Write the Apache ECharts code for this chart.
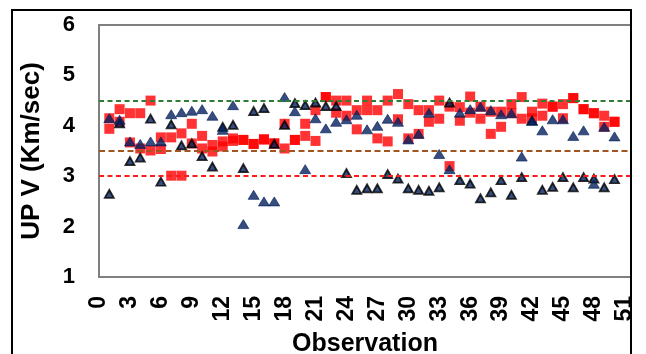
<!DOCTYPE html>
<html><head><meta charset="utf-8">
<script src="https://cdn.jsdelivr.net/npm/echarts@6/dist/echarts.min.js"></script>
<style>html,body{margin:0;padding:0;background:#fff}#c{width:646px;height:354px}</style>
</head><body><div id="c"></div>
<script>
const observations = [1,2,3,4,5,6,7,8,9,10,11,12,13,14,15,16,17,18,19,20,21,22,23,24,25,26,27,28,29,30,31,32,33,34,35,36,37,38,39,40,41,42,43,44,45,46,47,48,49,50];
const redA = [4.15,4.33,4.25,4.25,4.50,3.77,3.77,3.85,4.04,3.80,3.62,3.69,3.75,3.72,3.64,3.73,3.65,4.04,3.72,4.04,4.31,4.57,4.50,4.50,4.31,4.50,4.31,4.50,4.63,4.43,4.31,4.31,4.50,4.38,4.37,4.58,4.38,4.28,4.28,4.43,4.57,4.28,4.44,4.38,4.43,4.55,4.33,4.25,4.20,4.08];
const redB = [3.94,4.08,3.67,3.55,3.51,3.54,3.01,3.01,3.65,3.55,3.49,3.59,3.70,3.72,3.64,3.73,3.65,3.55,3.72,3.80,3.70,4.57,4.26,4.20,3.93,4.31,3.75,3.69,4.13,3.75,3.84,4.08,4.14,3.20,4.10,4.26,4.14,3.84,3.98,4.25,4.14,4.15,4.20,4.38,4.15,4.55,4.33,4.25,3.98,4.08];
const navyTri = [4.15,4.12,3.69,3.64,3.69,3.69,4.23,4.27,4.30,4.33,4.20,3.92,4.41,2.05,2.63,2.50,2.50,4.57,4.29,3.14,4.15,3.95,4.08,4.13,4.22,3.93,4.00,4.14,4.08,3.73,3.84,4.26,3.44,3.14,4.26,4.33,4.38,4.31,4.23,4.25,3.39,4.10,3.91,4.13,4.13,3.80,3.91,2.85,3.98,3.79];
const blackTri = [2.65,4.05,3.30,3.37,4.14,2.89,4.03,3.61,3.65,3.40,3.19,3.98,4.02,3.16,4.29,4.35,3.64,4.02,4.45,4.41,4.46,4.39,4.39,3.06,2.73,2.76,2.76,3.04,2.95,2.76,2.73,2.71,2.78,4.46,2.92,2.85,2.56,2.68,2.92,2.63,2.98,4.10,2.73,2.79,2.98,2.78,2.98,2.95,2.78,2.94];
const refLines = [4.5, 3.5, 3.0];
const refColors = ['#2E7D32', '#A0561E', '#FF1A1A'];
const yTicks = [1,2,3,4,5,6];
const xTickStep = 3;

const pairs = arr => arr.map((v, i) => [observations[i], v]);
const chart = echarts.init(document.getElementById('c'), null, {renderer: 'canvas'});
const font = 'Liberation Sans, Arial, sans-serif';
const navy = '#04205C';
chart.setOption({
  animation: false,
  backgroundColor: '#fff',
  graphic: [{type: 'rect', shape: {x: 12, y: 10, width: 619, height: 360}, style: {fill: 'none', stroke: '#000', lineWidth: 2}, z: 100}],
  grid: {left: 99, top: 25, right: 15, bottom: 77, show: true, borderColor: '#808080', borderWidth: 2, backgroundColor: 'transparent', outerBoundsMode: 'none', containLabel: false},
  xAxis: {
    type: 'value', min: 0, max: 51.6, interval: xTickStep,
    name: 'Observation', nameLocation: 'middle', nameGap: 55,
    nameTextStyle: {fontFamily: font, fontWeight: 'bold', fontSize: 25, color: '#000'},
    axisLine: {show: false}, axisTick: {show: false}, splitLine: {show: false},
    axisLabel: {rotate: 90, margin: 19, fontFamily: font, fontWeight: 'bold', fontSize: 23, color: '#000',
      formatter: v => (Math.abs(v % xTickStep) < 1e-9 ? String(v) : ''), showMaxLabel: false}
  },
  yAxis: {
    type: 'value', min: yTicks[0], max: yTicks[yTicks.length - 1], interval: 1,
    name: 'UP V (Km/sec)', nameLocation: 'middle', nameGap: 54,
    nameTextStyle: {fontFamily: font, fontWeight: 'bold', fontSize: 26, color: '#000'},
    axisLine: {show: false}, axisTick: {show: false}, splitLine: {show: false},
    axisLabel: {margin: 24, fontFamily: font, fontWeight: 'bold', fontSize: 22, color: '#000'}
  },
  series: [
    {type: 'scatter', data: pairs(redA), symbol: 'rect', symbolSize: 10, itemStyle: {color: '#FF0000'}, z: 2},
    {type: 'scatter', data: pairs(redB), symbol: 'rect', symbolSize: 10, itemStyle: {color: '#FF0000'}, z: 2},
    {type: 'scatter', data: pairs(blackTri), symbol: 'triangle', symbolSize: [9, 8], itemStyle: {color: navy, borderColor: '#000', borderWidth: 1.8}, z: 3},
    {type: 'scatter', data: pairs(navyTri), symbol: 'triangle', symbolSize: [11, 9], itemStyle: {color: navy, borderColor: navy, borderWidth: 0.8}, z: 4},
    {type: 'scatter', data: [], z: 10, silent: true,
      markLine: {silent: true, symbol: 'none', label: {show: false}, z: 10,
        data: refLines.map((v, i) => ({yAxis: v, lineStyle: {color: refColors[i], type: i === 1 ? [6, 3.5] : [5, 3.5], width: 2.2}}))}}
  ]
});
</script></body></html>
